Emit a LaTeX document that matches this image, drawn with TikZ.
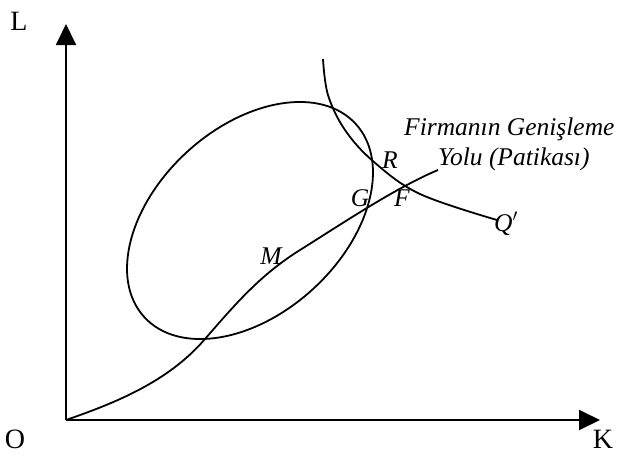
\documentclass[tikz,border=0pt]{standalone}
\usepackage{fontspec}
\setmainfont{Liberation Serif}
\usetikzlibrary{arrows.meta}
\begin{document}
\begin{tikzpicture}[x=1pt,y=-1pt,
  curve/.style={line width=1.8pt,black},
  axis/.style={line width=1.9pt,-{Triangle[length=21pt,width=20pt]}},
  lab/.style={font=\fontsize{28}{30}\selectfont,inner sep=0pt},
  ilab/.style={font=\fontsize{25.5}{27}\selectfont\itshape,inner sep=0pt}]
\useasboundingbox (0,0) rectangle (621,456);
% axes
\coordinate (O) at (66,420);
\coordinate (Ltip) at (66,24);
\coordinate (Ktip) at (600,420);
\draw[axis] (O) -- (Ltip);
\draw[axis] (O) -- (Ktip);
\node[lab,anchor=base] (Llab) at (19,30) {L};
\node[lab,anchor=base] (Olab) at (15,448) {O};
\node[lab,anchor=base] (Klab) at (603,448) {K};
% ellipse
\draw[curve,rotate around={42.4:(250,220.5)}] (250,220.5) ellipse [x radius=143.2, y radius=93.1];
% isoquant
\draw[curve] plot[smooth,tension=0.6] coordinates {(323,59) (328,95) (345,130) (374,162) (420,194) (497,220)};
% expansion path
\coordinate (P1) at (205,339);
\coordinate (P2) at (300,250);
\coordinate (Pend) at (438,170);
\draw[curve] (O) .. controls (115,403) and (168,382) .. (P1)
  .. controls (235,304.5) and (260,275) .. (P2)
  .. controls (340,225) and (395,188) .. (Pend);
% labels
\node[ilab,anchor=base] (M) at (271,264) {M};
\node[ilab,anchor=base] (G) at (360,206) {G};
\node[ilab,anchor=base] (F) at (402,206) {F};
\node[ilab,anchor=base] (R) at (390,168) {R};
\node[ilab,anchor=base] (Q) at (506,231) {Q$'$};
\node[ilab,anchor=base west] (T1) at (404,135) {Firmanın Genişleme};
\node[ilab,anchor=base west] (T2) at (438,165) {Yolu (Patikası)};
\end{tikzpicture}
\end{document}
